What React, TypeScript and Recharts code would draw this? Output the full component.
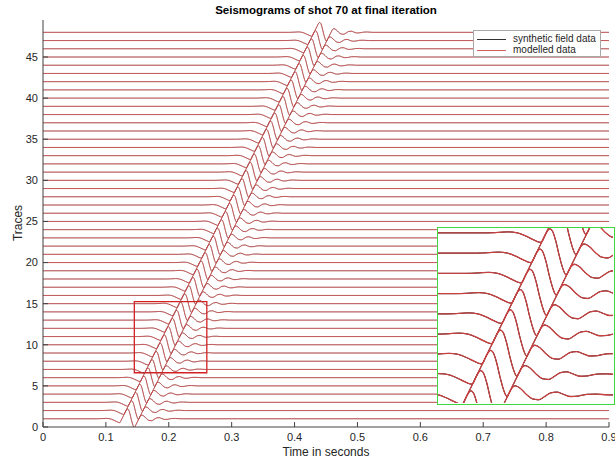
import React from 'react';
import { LineChart, Line, XAxis, YAxis, ReferenceArea } from 'recharts';

// ---- data ----
const TRACES = [
  1, 2, 3, 4, 5, 6, 7, 8, 9, 10, 11, 12, 13, 14, 15, 16, 17, 18, 19, 20, 21, 22, 23, 24,
  25, 26, 27, 28, 29, 30, 31, 32, 33, 34, 35, 36, 37, 38, 39, 40, 41, 42, 43, 44, 45, 46, 47, 48,
];

// time (s) at which the main rising flank of each trace crosses its baseline
const ARRIVALS = [
  0.1255, 0.132, 0.1385, 0.145, 0.1515, 0.158, 0.1645, 0.171, 0.1775, 0.184,
  0.1905, 0.197, 0.2035, 0.21, 0.2165, 0.223, 0.2295, 0.236, 0.2425, 0.249,
  0.2555, 0.262, 0.2685, 0.275, 0.2815, 0.288, 0.2945, 0.301, 0.3075, 0.314,
  0.3205, 0.327, 0.3335, 0.34, 0.3465, 0.353, 0.3595, 0.366, 0.3725, 0.379,
  0.3855, 0.392, 0.3985, 0.405, 0.4115, 0.418, 0.4245, 0.431,
];

// wavelet shape: time relative to arrival (s) and amplitude (trace units)
const WAVELET_TAU = [
  -0.04, -0.032, -0.025, -0.019, -0.014, -0.009, -0.0055, -0.0038, -0.0029, -0.0013, 0,
  0.0026, 0.0052, 0.0069, 0.0088, 0.0105, 0.0128, 0.015, 0.0172, 0.0186, 0.0196, 0.0208,
  0.0237, 0.027, 0.029, 0.0315, 0.035, 0.039, 0.043, 0.047, 0.051, 0.055, 0.059, 0.063,
  0.068, 0.073, 0.079, 0.085, 0.093,
];
const WAVELET_AMP = [
  0, 0.02, 0.05, 0.0, -0.14, -0.32, -0.44, -0.47, -0.44, -0.2, 0,
  0.4, 0.8, 1.05, 1.2, 1.1, 0.6, -0.1, -0.7, -0.98, -1.08, -0.95,
  -0.5, 0, 0.3, 0.45, 0.32, 0.02, -0.2, -0.24, -0.08, 0.1, 0.14, 0.04,
  -0.08, -0.06, 0.03, 0.04, 0,
];

const X_DOMAIN = [0, 0.9];
const Y_DOMAIN = [0, 49.5];
const X_TICKS = [0, 0.1, 0.2, 0.3, 0.4, 0.5, 0.6, 0.7, 0.8, 0.9];
const Y_TICKS = [0, 5, 10, 15, 20, 25, 30, 35, 40, 45];
const SERIES_NAMES = ['synthetic field data', 'modelled data'];
const ZOOM_X = [0.1452, 0.2605];
const ZOOM_Y = [6.6, 15.24];
const TITLE = 'Seismograms of shot 70 at final iteration';
const X_LABEL = 'Time in seconds';
const Y_LABEL = 'Traces';

// ---- styling ----
const FONT = '"Liberation Sans", Arial, Helvetica, sans-serif';
const RED = '#c84040';
const BLACK = '#000000';
const AXIS = '#404040';
const TEXT = '#262626';

type Pt = { t: number; v: number };

function buildTrace(level: number, arrival: number): Pt[] {
  const pts: Pt[] = [{ t: X_DOMAIN[0], v: level }];
  WAVELET_TAU.forEach((tau, k) => {
    pts.push({ t: arrival + tau, v: level + WAVELET_AMP[k] });
  });
  pts.push({ t: X_DOMAIN[1], v: level });
  return pts;
}

const TRACE_DATA = TRACES.map((n, k) => ({ n, pts: buildTrace(n, ARRIVALS[k]) }));

const fmt = (v: number) => String(v);

function traceLines(list: { n: number; pts: Pt[] }[], prefix: string, wBlack: number, wRed: number) {
  const out: React.ReactNode[] = [];
  list.forEach((tr) => {
    out.push(
      <Line
        key={`${prefix}-b-${tr.n}`}
        data={tr.pts}
        dataKey="v"
        type="monotoneX"
        stroke={BLACK}
        strokeWidth={wBlack}
        dot={false}
        activeDot={false}
        isAnimationActive={false}
        name={SERIES_NAMES[0]}
      />
    );
  });
  list.forEach((tr) => {
    out.push(
      <Line
        key={`${prefix}-r-${tr.n}`}
        data={tr.pts}
        dataKey="v"
        type="monotoneX"
        stroke={RED}
        strokeWidth={wRed}
        dot={false}
        activeDot={false}
        isAnimationActive={false}
        name={SERIES_NAMES[1]}
      />
    );
  });
  return out;
}

export default function App() {
  const insetTraces = TRACE_DATA.filter((tr) => tr.n >= ZOOM_Y[0] - 3 && tr.n <= ZOOM_Y[1] + 3);
  return (
    <div
      style={{
        position: 'absolute',
        left: 0,
        top: 0,
        width: 615,
        height: 462,
        background: '#ffffff',
        fontFamily: FONT,
        overflow: 'hidden',
      }}
    >
      <LineChart width={615} height={462} margin={{ top: 20, right: 6, bottom: 15, left: 10 }}>
        <XAxis
          dataKey="t"
          type="number"
          domain={X_DOMAIN}
          ticks={X_TICKS}
          interval={0}
          allowDataOverflow
          height={20}
          tickSize={-5}
          tickMargin={11}
          stroke={AXIS}
          tickFormatter={fmt}
          tick={{ fill: TEXT, fontSize: 11, fontFamily: FONT }}
        />
        <XAxis
          xAxisId="top"
          orientation="top"
          dataKey="t"
          type="number"
          domain={X_DOMAIN}
          ticks={X_TICKS}
          interval={0}
          allowDataOverflow
          height={0}
          tickSize={-5}
          tick={false}
          stroke={AXIS}
        />
        <YAxis
          type="number"
          domain={Y_DOMAIN}
          ticks={Y_TICKS}
          interval={0}
          allowDataOverflow
          width={33}
          tickSize={-5}
          tickMargin={10}
          stroke={AXIS}
          tickFormatter={fmt}
          tick={{ fill: TEXT, fontSize: 11, fontFamily: FONT }}
        />
        <YAxis
          yAxisId="right"
          orientation="right"
          type="number"
          domain={Y_DOMAIN}
          ticks={Y_TICKS}
          interval={0}
          allowDataOverflow
          width={0}
          tickSize={-5}
          tick={false}
          stroke={AXIS}
        />
        {traceLines(TRACE_DATA, 'main', 0.3, 0.8)}
        <ReferenceArea
          x1={ZOOM_X[0]}
          x2={ZOOM_X[1]}
          y1={ZOOM_Y[0]}
          y2={ZOOM_Y[1]}
          fill="none"
          fillOpacity={0}
          stroke="#d42020"
          strokeWidth={1.3}
          ifOverflow="visible"
        />
      </LineChart>

      {/* title */}
      <div
        style={{
          position: 'absolute',
          left: 0,
          width: 652,
          top: 3,
          textAlign: 'center',
          fontWeight: 'bold',
          fontSize: 11.5,
          color: '#000',
          whiteSpace: 'nowrap',
          lineHeight: '14px',
        }}
      >
        {TITLE}
      </div>

      {/* x label */}
      <div
        style={{
          position: 'absolute',
          left: 0,
          width: 652,
          top: 445,
          textAlign: 'center',
          fontSize: 12,
          color: TEXT,
          whiteSpace: 'nowrap',
          lineHeight: '14px',
        }}
      >
        {X_LABEL}
      </div>

      {/* y label */}
      <div
        style={{
          position: 'absolute',
          left: 18,
          top: 223,
          transform: 'translate(-50%, -50%) rotate(-90deg)',
          fontSize: 12,
          color: TEXT,
          whiteSpace: 'nowrap',
          lineHeight: '14px',
        }}
      >
        {Y_LABEL}
      </div>

      {/* legend */}
      <div
        style={{
          position: 'absolute',
          left: 473,
          top: 30,
          width: 128,
          height: 27,
          boxSizing: 'border-box',
          border: '1px solid #a8a8a8',
          background: '#ffffff',
        }}
      >
        {SERIES_NAMES.map((name, k) => (
          <div
            key={name}
            style={{ position: 'absolute', left: 3, top: 3 + k * 11, height: 11, width: 124 }}
          >
            <div
              style={{
                position: 'absolute',
                left: 0,
                top: 5,
                width: 29,
                height: 0,
                borderTop: `1px solid ${k === 0 ? '#333' : '#d06060'}`,
              }}
            />
            <div
              style={{
                position: 'absolute',
                left: 36,
                top: -1,
                fontSize: 10,
                lineHeight: '12px',
                color: TEXT,
                whiteSpace: 'nowrap',
              }}
            >
              {name}
            </div>
          </div>
        ))}
      </div>

      {/* zoomed inset */}
      <div
        style={{
          position: 'absolute',
          left: 437,
          top: 227,
          width: 178,
          height: 178,
          boxSizing: 'border-box',
          border: '1.5px solid #3fd83f',
          background: '#ffffff',
          overflow: 'hidden',
        }}
      >
        <LineChart width={175} height={175} margin={{ top: 0, right: 0, bottom: 0, left: 0 }}>
          <XAxis hide dataKey="t" type="number" domain={ZOOM_X} allowDataOverflow />
          <YAxis hide type="number" domain={ZOOM_Y} allowDataOverflow />
          {traceLines(insetTraces, 'inset', 1.0, 1.3)}
        </LineChart>
      </div>
    </div>
  );
}
